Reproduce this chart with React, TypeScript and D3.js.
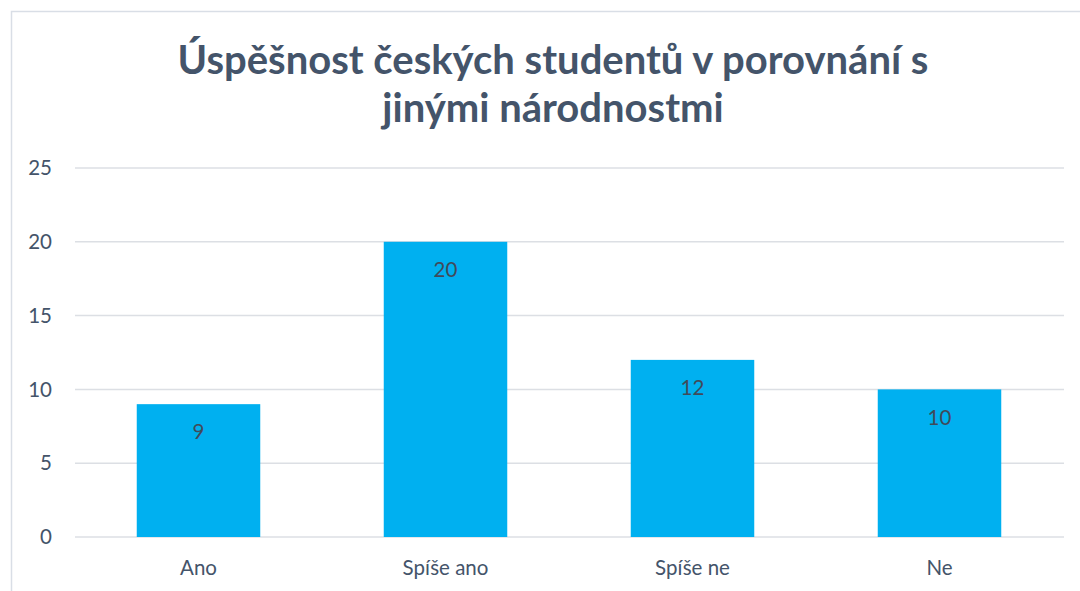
import React from 'react';
import * as d3 from 'd3';

const categories = ['Ano', 'Spíše ano', 'Spíše ne', 'Ne'];
const values = [9, 20, 12, 10];
const yTicks = [0, 5, 10, 15, 20, 25];
const titleLines = ['Úspěšnost českých studentů v porovnání s', 'jinými národnostmi'];

const width = 1080;
const height = 591;

const x = d3.scaleBand().domain(categories).range([75, 1063]).paddingInner(0.5).paddingOuter(0.25);
const y = d3.scaleLinear().domain([0, 25]).range([537, 168]);

const font = 'Lato, "Open Sans", sans-serif';

const App = () => {
  return (
    <svg width={width} height={height} style={{ position: 'absolute', left: 0, top: 0 }}>
      <rect x={0} y={0} width={width} height={height} fill="#fff" />
      <rect x={11.5} y={11.5} width={width + 20} height={height + 20} fill="none" stroke="#D9DEE6" strokeWidth={1.5} />
      {titleLines.map((t, i) => (
        <text key={i} x={553} y={74 + i * 48} textAnchor="middle" fontFamily={font} fontWeight="bold" fontSize={40} fill="#44546A">
          {t}
        </text>
      ))}
      {yTicks.map(t => (
        <g key={t}>
          <line x1={75} x2={1064} y1={y(t)} y2={y(t)} stroke="#DCDFE4" strokeWidth={1.5} />
          <text x={52} y={y(t)} dy="0.35em" textAnchor="end" fontFamily={font} fontSize={20.5} fill="#44546A">
            {t}
          </text>
        </g>
      ))}
      {categories.map((c, i) => (
        <g key={c}>
          <rect x={x(c)} y={y(values[i])} width={x.bandwidth()} height={y(0) - y(values[i])} fill="#00B0F0" />
          <text x={x(c)! + x.bandwidth() / 2} y={y(values[i]) + 28} dy="0.35em" textAnchor="middle" fontFamily={font} fontSize={20.5} fill="#404A5A">
            {values[i]}
          </text>
          <text x={x(c)! + x.bandwidth() / 2} y={568} dy="0.35em" textAnchor="middle" fontFamily={font} fontSize={20.5} fill="#44546A">
            {c}
          </text>
        </g>
      ))}
    </svg>
  );
};

export default App;
